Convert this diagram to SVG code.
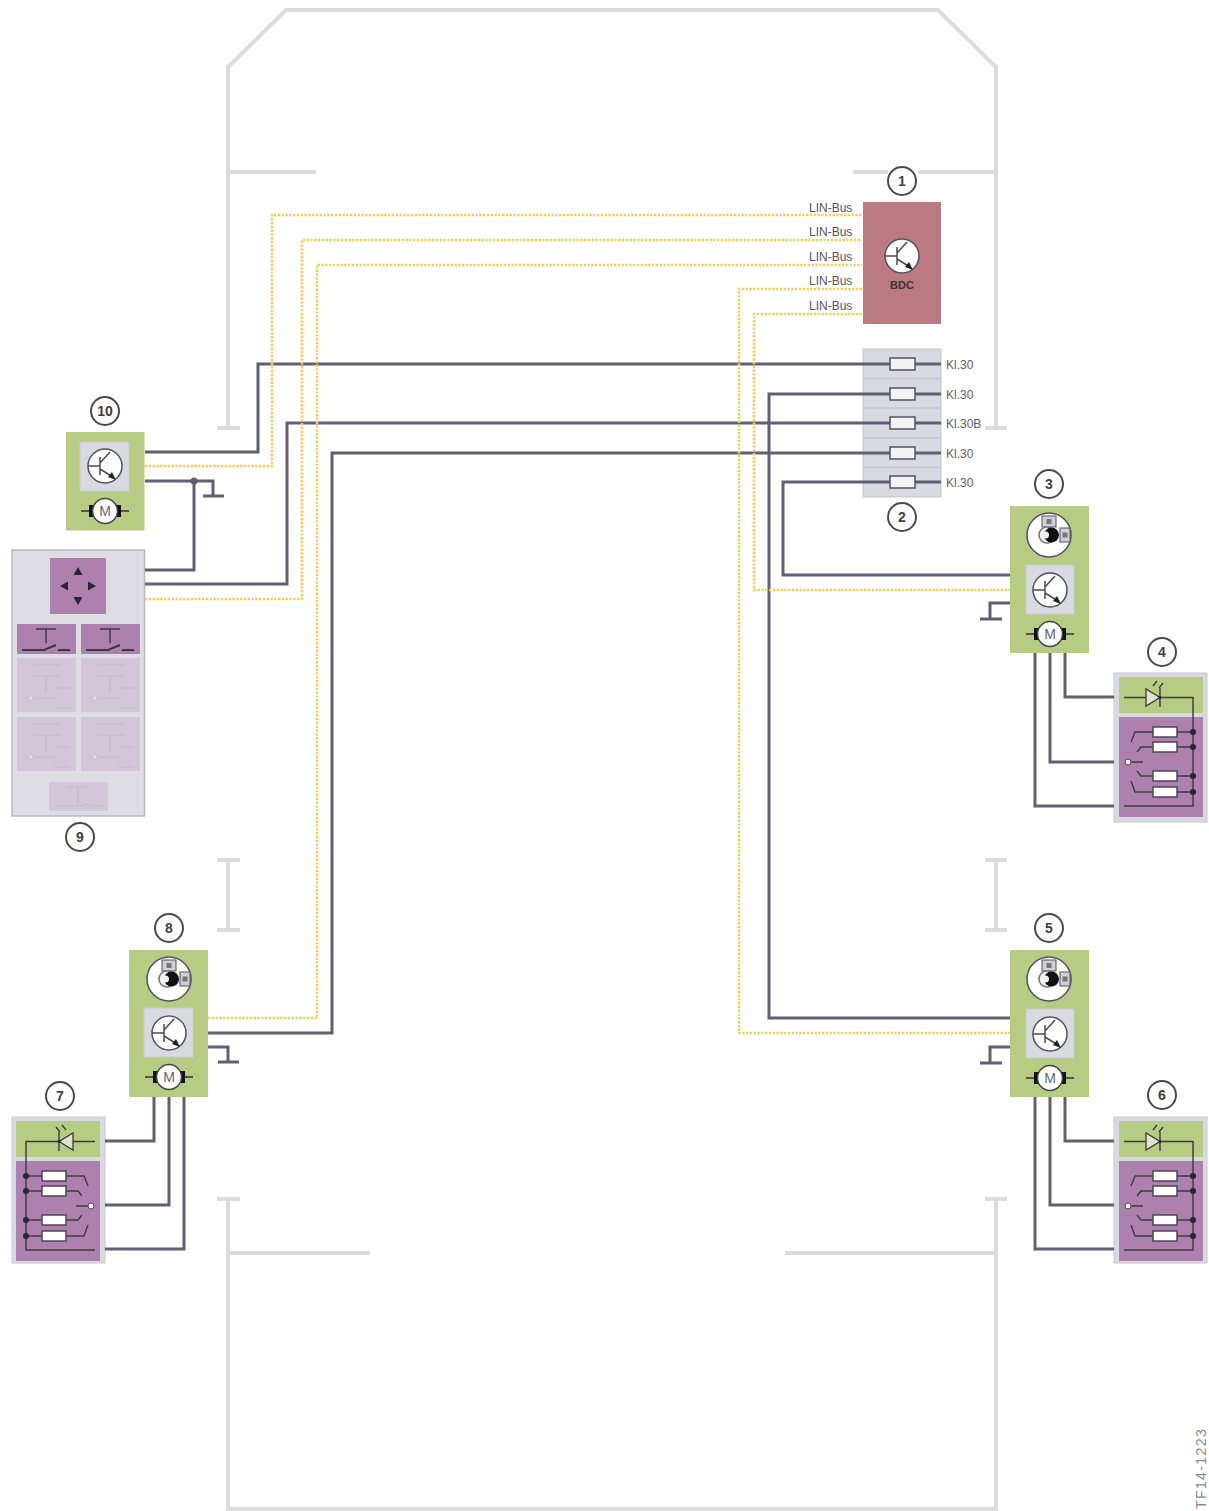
<svg xmlns="http://www.w3.org/2000/svg" xmlns:xlink="http://www.w3.org/1999/xlink" width="1209" height="1511" viewBox="0 0 1209 1511">
<style>
text{font-family:"Liberation Sans",Arial,sans-serif}
.car{fill:none;stroke:#dcdcdc;stroke-width:4}
.w{fill:none;stroke:#625f74;stroke-width:3}
.y{fill:none;stroke:#f0cf5a;stroke-width:2.600;stroke-dasharray:2.400 1.400}
.t{fill:none;stroke:#4d4a58;stroke-width:1.500}
.s{fill:none;stroke:#3d3848;stroke-width:1.400}
.num{fill:#fff;stroke:#4a4a4a;stroke-width:2}
.numt{font-size:14px;font-weight:bold;fill:#3f3f3f;text-anchor:middle}
.lin{font-size:12px;fill:#55535f}
.kl{font-size:12px;fill:#5f5e68}
.green{fill:#b5cc82}
.gray{fill:#d9d9e1;stroke:#c9c9d2;stroke-width:1}
.purple{fill:#ae80ae}
.pale{fill:#d3c6d8}
.pl{fill:none;stroke:#c4b7cb;stroke-width:1.200}
.res{fill:#fff;stroke:#4d4558;stroke-width:1.500}
.dot{fill:#2b2433}
</style>
<defs>
<g id="trans">
<circle r="17" fill="#fff" stroke="#55525f" stroke-width="1.500"/>
<path class="t" d="M-17 0H-5M-5 -9V9M-5 -3L5 -14M-5 3L8 11"/>
<path d="M11 14L3 11L7 6Z" fill="#222"/>
</g>
<g id="motor">
<path d="M-24 0H24" stroke="#333" stroke-width="1.500"/>
<rect x="-16" y="-6" width="32" height="12" fill="#111"/>
<circle r="12.500" fill="#fff" stroke="#444" stroke-width="1.500"/>
<text y="5" font-size="14" text-anchor="middle" fill="#66666e">M</text>
</g>
<g id="lamp">
<circle r="22" fill="#fff" stroke="#55525f" stroke-width="1.500"/>
<rect x="-7" y="-19" width="14" height="11" fill="#cfcfd6" stroke="#55525f"/>
<rect x="-2.500" y="-16" width="5" height="5" fill="#777"/>
<rect x="11" y="-7" width="10" height="14" fill="#cfcfd6" stroke="#55525f"/>
<rect x="13.500" y="-2.500" width="5" height="5" fill="#777"/>
<circle cx="-2" r="8" fill="#f2f2f2" stroke="#77747f" stroke-width="1.500"/>
<circle cx="2.500" r="7.500" fill="#111"/>
<circle cx="-3.500" r="3.500" fill="#f2f2f2"/>
</g>
<g id="led">
<rect x="1119" y="677" width="84" height="36" class="green"/>
<rect x="1119" y="717" width="84" height="100" class="purple"/>
<path class="s" d="M1124 697.500H1193V806H1124"/>
<path d="M1146 689V706L1160 697.500Z" fill="#dfe6c8" stroke="#3d3848" stroke-width="1.300"/>
<path class="s" d="M1160 688V707M1153 686L1157 681M1159 688L1163 683"/>
<path class="s" d="M1177 732H1193M1177 747H1193M1177 776H1193M1177 792H1193M1153 732H1135L1131 742M1153 747H1141L1137 752M1153 776H1141L1137 771M1153 792H1135L1131 781M1131 762H1143"/>
<rect class="res" x="1153" y="727" width="24" height="10"/>
<rect class="res" x="1153" y="742" width="24" height="10"/>
<rect class="res" x="1153" y="771" width="24" height="10"/>
<rect class="res" x="1153" y="787" width="24" height="10"/>
<circle class="dot" cx="1193" cy="732" r="3"/><circle class="dot" cx="1193" cy="747" r="3"/><circle class="dot" cx="1193" cy="776" r="3"/><circle class="dot" cx="1193" cy="792" r="3"/><circle class="dot" cx="1160" cy="697.500" r="1.500"/>
<circle cx="1128" cy="762" r="3" fill="#fff" stroke="#4d4558"/>
</g>
<g id="swp">
<path class="s" d="M36 5H56M46 5V19"/>
<path d="M22 26H44L56 21M58 26H70" fill="none" stroke="#3d3848" stroke-width="2"/>
</g>
<g id="swl">
<path class="pl" d="M33 7H60M33 18H60M46 18V34M22 40H55M55 30H70M55 50H70"/>
<circle cx="31" cy="40" r="2.500" fill="#e6e0ea" stroke="#c4b7cb"/>
</g>
</defs>

<g id="car-outline">
<path class="car" d="M228 428V67L286 10H938L996 67V427"/>
<path class="car" d="M217 428H240M985 428H1007M228 172H316M853 172H888M918 172H996"/>
<path class="car" d="M217 860H240M228 860V930M217 930H240M985 860H1007M996 860V930M985 930H1007"/>
<path class="car" d="M217 1199H240M985 1199H1007M228 1199V1509H996V1199M228 1253H370M785 1253H996"/>
</g>

<g id="n1">
<rect x="863" y="202" width="78" height="122" fill="#b97b81"/>
<use xlink:href="#trans" href="#trans" transform="translate(902 256)"/>
<text x="902" y="289" font-size="11" font-weight="bold" text-anchor="middle" fill="#40303a">BDC</text>
<circle class="num" cx="902" cy="181" r="14"/><text class="numt" x="902" y="186">1</text>
</g>

<g id="n2">
<rect x="863" y="349" width="78" height="148" fill="#d9d9e2" stroke="#c5c5cf"/>
<path d="M863 378.500H941M863 408H941M863 438H941M863 467.500H941" stroke="#c5c5cf" stroke-width="1.500" fill="none"/>
<path class="w" d="M863 364H941M863 394H941M863 423H941M863 453H941M863 482H941"/>
<g fill="#f3f3f3" stroke="#55525f" stroke-width="1.500">
<rect x="890" y="358" width="25" height="12"/><rect x="890" y="388" width="25" height="12"/><rect x="890" y="417" width="25" height="12"/><rect x="890" y="447" width="25" height="12"/><rect x="890" y="476" width="25" height="12"/>
</g>
<circle class="num" cx="902" cy="517" r="14"/><text class="numt" x="902" y="522">2</text>
</g>

<g id="labels">
<text class="lin" x="809" y="212">LIN-Bus</text>
<text class="lin" x="809" y="236">LIN-Bus</text>
<text class="lin" x="809" y="261">LIN-Bus</text>
<text class="lin" x="809" y="285">LIN-Bus</text>
<text class="lin" x="809" y="310">LIN-Bus</text>
<text class="kl" x="946" y="369">Kl.30</text>
<text class="kl" x="946" y="399">Kl.30</text>
<text class="kl" x="946" y="428">Kl.30B</text>
<text class="kl" x="946" y="458">Kl.30</text>
<text class="kl" x="946" y="487">Kl.30</text>
</g>

<g id="n3">
<rect class="green" x="1010" y="506" width="79" height="147"/>
<use xlink:href="#lamp" href="#lamp" transform="translate(1049 535)"/>
<rect class="gray" x="1026" y="565" width="48" height="49"/>
<use xlink:href="#trans" href="#trans" transform="translate(1050 590)"/>
<use xlink:href="#motor" href="#motor" transform="translate(1050 634)"/>
<circle class="num" cx="1049" cy="484" r="14"/><text class="numt" x="1049" y="489">3</text>
</g>
<g id="n4">
<rect class="gray" x="1114" y="673" width="93" height="149"/>
<use xlink:href="#led" href="#led"/>
<circle class="num" cx="1162" cy="652" r="14"/><text class="numt" x="1162" y="657">4</text>
</g>
<g id="n5">
<rect class="green" x="1010" y="950" width="79" height="147"/>
<use xlink:href="#lamp" href="#lamp" transform="translate(1049 979)"/>
<rect class="gray" x="1026" y="1009" width="48" height="49"/>
<use xlink:href="#trans" href="#trans" transform="translate(1050 1034)"/>
<use xlink:href="#motor" href="#motor" transform="translate(1050 1078)"/>
<circle class="num" cx="1049" cy="928" r="14"/><text class="numt" x="1049" y="933">5</text>
</g>
<g id="n6">
<rect class="gray" x="1114" y="1117" width="93" height="146"/>
<use xlink:href="#led" href="#led" transform="translate(0 444)"/>
<circle class="num" cx="1162" cy="1095" r="14"/><text class="numt" x="1162" y="1100">6</text>
</g>
<g id="n7">
<rect class="gray" x="12" y="1117" width="93" height="146"/>
<use xlink:href="#led" href="#led" transform="translate(1219 444) scale(-1 1)"/>
<circle class="num" cx="60" cy="1096" r="14"/><text class="numt" x="60" y="1101">7</text>
</g>
<g id="n8">
<rect class="green" x="129" y="950" width="79" height="147"/>
<use xlink:href="#lamp" href="#lamp" transform="translate(169 979)"/>
<rect class="gray" x="144" y="1008" width="49" height="49"/>
<use xlink:href="#trans" href="#trans" transform="translate(169 1033)"/>
<use xlink:href="#motor" href="#motor" transform="translate(169 1077)"/>
<circle class="num" cx="169" cy="928" r="14"/><text class="numt" x="169" y="933">8</text>
</g>
<g id="n9">
<rect x="12" y="550" width="132.500" height="266" fill="#dfdde4" stroke="#b9b9c2" stroke-width="1.500"/>
<rect class="purple" x="50" y="558" width="56" height="56"/>
<path d="M78 567L82.500 575H73.500ZM78 605L82.500 597H73.500ZM60 586L68 581.500V590.500ZM96 586L88 581.500V590.500Z" fill="#2b2433"/>
<rect class="purple" x="17" y="624" width="59" height="30"/>
<rect class="purple" x="81" y="624" width="59" height="30"/>
<use xlink:href="#swp" href="#swp" transform="translate(0 624)"/>
<use xlink:href="#swp" href="#swp" transform="translate(64 624)"/>
<rect class="pale" x="17" y="658" width="59" height="54"/>
<rect class="pale" x="81" y="658" width="59" height="54"/>
<rect class="pale" x="17" y="717" width="59" height="54"/>
<rect class="pale" x="81" y="717" width="59" height="54"/>
<use xlink:href="#swl" href="#swl" transform="translate(0 658)"/>
<use xlink:href="#swl" href="#swl" transform="translate(64 658)"/>
<use xlink:href="#swl" href="#swl" transform="translate(0 717)"/>
<use xlink:href="#swl" href="#swl" transform="translate(64 717)"/>
<rect class="pale" x="49" y="782" width="59" height="29"/>
<path class="pl" d="M68 787H88M78 787V805M54 806H78L88 804M91 806H104"/>
<circle class="num" cx="80" cy="837" r="14"/><text class="numt" x="80" y="842">9</text>
</g>
<g id="n10">
<rect class="green" x="66" y="432" width="78.500" height="98.500"/>
<rect class="gray" x="80" y="442" width="49" height="49"/>
<use xlink:href="#trans" href="#trans" transform="translate(105 466)"/>
<use xlink:href="#motor" href="#motor" transform="translate(105 511)"/>
<circle class="num" cx="105" cy="411" r="14"/><text class="numt" x="105" y="416">10</text>
</g>

<g id="connectors">
<path class="w" d="M145 452H258V364H863"/>
<path class="w" d="M145 584H287V423H863"/>
<path class="w" d="M208 1033H332V453H863"/>
<path class="w" d="M863 394H769V1018H1010"/>
<path class="w" d="M863 482H783V575H1010"/>
<path class="y" d="M145 466H272V215H862"/>
<path class="y" d="M145 599H302V240H862"/>
<path class="y" d="M208 1018H317V265H862"/>
<path class="y" d="M862 289H739V1033H1010"/>
<path class="y" d="M862 314H754V590H1010"/>
<path class="w" d="M145 481H213V496M203 496H224M145 570H194V481"/>
<circle cx="194" cy="481" r="3.500" fill="#5f5c72"/>
<path class="w" d="M1010 603H990V619M980 619H1002"/>
<path class="w" d="M1010 1047H990V1063M980 1063H1002"/>
<path class="w" d="M208 1047H228V1062M218 1062H239"/>
<path class="w" d="M1065 653V697H1114M1050 653V762H1114M1035 653V806H1114"/>
<path class="w" d="M1065 1097V1141H1114M1050 1097V1205H1114M1035 1097V1249H1114"/>
<path class="w" d="M154 1097V1141H105M169 1097V1205H105M184 1097V1249H105"/>
</g>
<text x="1206" y="1509" font-size="14" letter-spacing="1.400" fill="#8b8b8b" transform="rotate(-90 1206 1509)">TF14-1223</text>
</svg>
